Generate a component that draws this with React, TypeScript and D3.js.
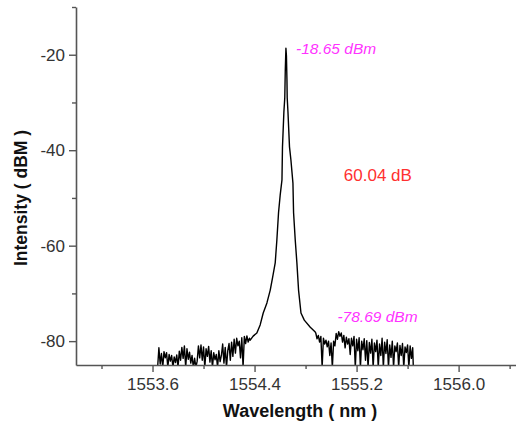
import * as d3 from 'd3';

// spectrum, split in three parts: [wavelength nm, intensity dBm]
const leftNoise: [number, number][] = [
  [1553.64, -85.5], [1553.65, -81.4], [1553.66, -84.8], [1553.67, -82.6], [1553.68, -85.5],
  [1553.69, -82.2], [1553.7, -83.5], [1553.71, -82.4], [1553.72, -85.5], [1553.73, -82.8],
  [1553.74, -84.2], [1553.75, -83.0], [1553.76, -85.5], [1553.77, -83.3], [1553.78, -84.5],
  [1553.79, -82.9], [1553.8, -85.5], [1553.81, -82.1], [1553.82, -84.0], [1553.83, -81.3],
  [1553.84, -83.6], [1553.85, -81.0], [1553.86, -85.5], [1553.87, -81.6], [1553.88, -83.8],
  [1553.89, -82.3], [1553.9, -84.6], [1553.91, -83.0], [1553.92, -85.5], [1553.93, -83.6],
  [1553.94, -85.5], [1553.95, -84.2], [1553.96, -81.0], [1553.97, -83.5], [1553.98, -80.8],
  [1553.99, -84.0], [1554.0, -81.2], [1554.01, -85.5], [1554.02, -81.6], [1554.03, -83.2],
  [1554.04, -81.1], [1554.05, -84.4], [1554.06, -82.0], [1554.07, -85.5], [1554.08, -82.4],
  [1554.09, -83.9], [1554.1, -82.8], [1554.11, -85.5], [1554.12, -82.0], [1554.13, -84.3],
  [1554.14, -83.0], [1554.15, -80.6], [1554.16, -84.6], [1554.17, -81.3], [1554.18, -85.5],
  [1554.19, -82.0], [1554.2, -80.5], [1554.21, -84.0], [1554.22, -80.2], [1554.23, -83.2],
  [1554.24, -79.6], [1554.25, -82.5], [1554.26, -79.4], [1554.27, -81.0], [1554.28, -80.0],
  [1554.29, -83.5], [1554.3, -79.3], [1554.31, -85.5], [1554.32, -79.0], [1554.33, -80.5],
  [1554.34, -78.9], [1554.35, -80.2], [1554.36, -79.4],
];

const peakShape: [number, number][] = [
  [1554.366, -79.8], [1554.389, -78.95], [1554.418, -78.3], [1554.444, -76.6],
  [1554.468, -74.1], [1554.497, -72.0], [1554.523, -69.3], [1554.542, -66.6],
  [1554.562, -63.6], [1554.575, -58.8], [1554.588, -53.1], [1554.601, -49.4],
  [1554.615, -46.2], [1554.619, -39.3], [1554.63, -32.0], [1554.637, -29.0],
  [1554.641, -23.2], [1554.646, -18.65], [1554.65, -20.2], [1554.654, -25.2],
  [1554.656, -29.0], [1554.662, -32.0], [1554.674, -39.3], [1554.685, -42.0],
  [1554.701, -46.9], [1554.706, -53.1], [1554.719, -58.8], [1554.732, -63.6],
  [1554.745, -69.3], [1554.764, -74.1], [1554.79, -75.6], [1554.837, -77.1],
  [1554.876, -78.1],
];

const rightNoise: [number, number][] = [
  [1554.88, -78.3], [1554.89, -79.5], [1554.9, -78.8], [1554.91, -80.2], [1554.92, -79.0],
  [1554.93, -85.5], [1554.94, -79.4], [1554.95, -80.6], [1554.96, -79.8], [1554.97, -81.2],
  [1554.98, -80.0], [1554.99, -83.0], [1555.0, -80.4], [1555.01, -85.5], [1555.02, -80.0],
  [1555.03, -81.0], [1555.04, -78.4], [1555.05, -79.6], [1555.06, -78.0], [1555.07, -79.0],
  [1555.08, -78.3], [1555.09, -80.2], [1555.1, -78.8], [1555.11, -81.4], [1555.12, -79.2],
  [1555.13, -80.6], [1555.14, -79.5], [1555.15, -82.8], [1555.16, -79.4], [1555.17, -81.0],
  [1555.18, -79.0], [1555.19, -85.5], [1555.2, -79.6], [1555.21, -82.0], [1555.22, -79.3],
  [1555.23, -85.5], [1555.24, -80.0], [1555.25, -81.8], [1555.26, -79.5], [1555.27, -84.0],
  [1555.28, -79.9], [1555.29, -85.5], [1555.3, -80.3], [1555.31, -82.5], [1555.32, -79.6],
  [1555.33, -85.5], [1555.34, -80.4], [1555.35, -82.2], [1555.36, -79.8], [1555.37, -85.5],
  [1555.38, -80.6], [1555.39, -83.0], [1555.4, -79.4], [1555.41, -85.5], [1555.42, -80.2],
  [1555.43, -82.6], [1555.44, -79.7], [1555.45, -85.5], [1555.46, -80.8], [1555.47, -83.4],
  [1555.48, -80.0], [1555.49, -85.5], [1555.5, -81.0], [1555.51, -82.2], [1555.52, -80.4],
  [1555.53, -85.5], [1555.54, -80.9], [1555.55, -83.0], [1555.56, -80.5], [1555.57, -85.5],
  [1555.58, -81.2], [1555.59, -82.4], [1555.6, -80.8], [1555.61, -85.5], [1555.62, -81.0],
  [1555.63, -83.6], [1555.64, -81.4], [1555.645, -85.5],
];

// ticks
const xMajorTicks = [1553.6, 1554.4, 1555.2, 1556.0];
const xMinorTicks = [1553.2, 1554.0, 1554.8, 1555.6, 1556.4];
const yMajorTicks = [-20, -40, -60, -80];
const yMinorTicks = [-10, -30, -50, -70];

// annotations, anchored in data units
const peakLabel = { x: 1554.725, y: -19.8, text: '-18.65 dBm' };
const floorLabel = { x: 1555.05, y: -76.0, text: '-78.69 dBm' };
const ratioLabel = { x: 1555.1, y: -46.5, text: '60.04 dB' };

export default function App() {
  const width = 516;
  const height = 428;
  const margin = { top: 7, right: 0, bottom: 63, left: 76 };
  const innerWidth = width - margin.left - margin.right;
  const innerHeight = height - margin.top - margin.bottom;

  const xScale = d3.scaleLinear().domain([1553.0, 1556.45]).range([0, innerWidth]);
  const yScale = d3.scaleLinear().domain([-85, -10]).range([innerHeight, 0]);

  const data = [...leftNoise, ...peakShape, ...rightNoise];
  const line = d3
    .line<[number, number]>()
    .x((d) => xScale(d[0]))
    .y((d) => yScale(d[1]));

  const axisColor = '#555';
  const font = 'Arial, "Liberation Sans", sans-serif';

  // style d3 axis output the way the plot looks
  const styleAxis = (g: any) => {
    g.select('.domain').attr('stroke', axisColor).attr('stroke-width', 1.6);
    g.selectAll('.tick line').attr('stroke', axisColor).attr('stroke-width', 1.4);
    g.selectAll('.tick text').attr('fill', '#333').attr('font-size', 17).attr('font-family', font);
  };

  return (
    <div style={{ position: 'absolute', left: 0, top: 0 }}>
      <svg width={width} height={height} style={{ display: 'block', background: '#fff' }}>
        <defs>
          <clipPath id="plot-clip">
            <rect x={0} y={0} width={innerWidth} height={innerHeight} />
          </clipPath>
        </defs>
        <g transform={`translate(${margin.left}, ${margin.top})`}>
          {/* spectrum */}
          <path
            d={line(data) ?? ''}
            fill="none"
            stroke="#000"
            strokeWidth={1.4}
            strokeLinejoin="round"
            clipPath="url(#plot-clip)"
          />

          {/* minor ticks */}
          <g
            transform={`translate(0, ${innerHeight})`}
            ref={(node) => {
              if (!node) return;
              const g = d3.select(node);
              g.call(d3.axisBottom(xScale).tickValues(xMinorTicks).tickSize(4).tickFormat(() => ''));
              g.select('.domain').remove();
              g.selectAll('.tick line').attr('stroke', axisColor).attr('stroke-width', 1.4);
            }}
          />
          <g
            ref={(node) => {
              if (!node) return;
              const g = d3.select(node);
              g.call(d3.axisLeft(yScale).tickValues(yMinorTicks).tickSize(4).tickFormat(() => ''));
              g.select('.domain').remove();
              g.selectAll('.tick line').attr('stroke', axisColor).attr('stroke-width', 1.4);
            }}
          />

          {/* x axis */}
          <g
            transform={`translate(0, ${innerHeight})`}
            ref={(node) => {
              if (!node) return;
              const g = d3.select(node);
              g.call(
                d3
                  .axisBottom(xScale)
                  .tickValues(xMajorTicks)
                  .tickSize(7)
                  .tickSizeOuter(0)
                  .tickPadding(6)
                  .tickFormat((d) => (d as number).toFixed(1))
              );
              styleAxis(g);
            }}
          />
          <text
            x={innerWidth / 2 + 4}
            y={innerHeight + 52}
            textAnchor="middle"
            fontFamily={font}
            fontWeight="bold"
            fontSize={18}
            fill="#111"
          >
            Wavelength ( nm )
          </text>

          {/* y axis */}
          <g
            ref={(node) => {
              if (!node) return;
              const g = d3.select(node);
              g.call(
                d3
                  .axisLeft(yScale)
                  .tickValues(yMajorTicks)
                  .tickSize(7)
                  .tickSizeOuter(0)
                  .tickPadding(4)
                  .tickFormat((d) => String(d))
              );
              styleAxis(g);
            }}
          />
          <text
            transform={`translate(-49, ${innerHeight / 2 + 12}) rotate(-90)`}
            textAnchor="middle"
            fontFamily={font}
            fontWeight="bold"
            fontSize={17.5}
            fill="#111"
          >
            Intensity ( dBM )
          </text>

          {/* annotations */}
          <text
            x={xScale(peakLabel.x)}
            y={yScale(peakLabel.y)}
            fontFamily={font}
            fontStyle="italic"
            fontSize={15.5}
            fill="#ff33ff"
          >
            {peakLabel.text}
          </text>
          <text
            x={xScale(floorLabel.x)}
            y={yScale(floorLabel.y)}
            fontFamily={font}
            fontStyle="italic"
            fontSize={15.5}
            fill="#ff33ff"
          >
            {floorLabel.text}
          </text>
          <text
            x={xScale(ratioLabel.x)}
            y={yScale(ratioLabel.y)}
            fontFamily={font}
            fontSize={17}
            fill="#ff3030"
          >
            {ratioLabel.text}
          </text>
        </g>
      </svg>
    </div>
  );
}
